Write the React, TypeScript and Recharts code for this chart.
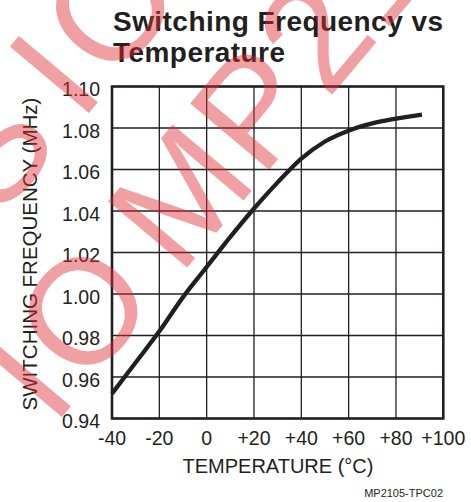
import React from "react";
import {
  LineChart,
  Line,
  XAxis,
  YAxis,
  CartesianGrid,
  ReferenceArea,
} from "recharts";

// temperature (°C) and switching frequency (MHz)
const TEMPS = [-40, -30, -20, -10, 0, 10, 20, 30, 40, 50, 60, 70, 80, 91];
const FREQ = [
  0.952, 0.967, 0.982, 0.9985, 1.013, 1.0275, 1.0412, 1.0538, 1.0652, 1.0735,
  1.0787, 1.0822, 1.0845, 1.0865,
];

const X_TICKS = [-40, -20, 0, 20, 40, 60, 80, 100];
const X_TICK_LABELS = ["-40", "-20", "0", "+20", "+40", "+60", "+80", "+100"];
const Y_TICKS = [0.94, 0.96, 0.98, 1.0, 1.02, 1.04, 1.06, 1.08, 1.1];
const Y_TICK_LABELS = ["0.94", "0.96", "0.98", "1.00", "1.02", "1.04", "1.06", "1.08", "1.10"];

const TITLE = ["Switching Frequency vs", "Temperature"];
const X_TITLE = "TEMPERATURE (°C)";
const Y_TITLE = "SWITCHING FREQUENCY (MHz)";
const FOOTER = "MP2105-TPC02";

// watermark letters: [glyph, offset along the baseline]
const MARK_LOWER: [string, number][] = [
  ["I", -88],
  ["O", 0],
  ["M", 150],
  ["P", 265],
  ["2", 360],
  ["1", 445],
  ["0", 530],
  ["5", 615],
];
const MARK_UPPER: [string, number][] = [
  ["S", -185],
  ["I", -88],
  ["O", 0],
  ["N", 110],
];

const INK = "#231f20";
const FONT = "'Liberation Sans', Arial, Helvetica, sans-serif";

const data = TEMPS.map((t, i) => ({ t, f: FREQ[i] }));

function Mark({ x, y, letters }: { x: number; y: number; letters: [string, number][] }) {
  return (
    <g transform={`translate(${x} ${y}) rotate(-50)`}>
      {letters.map(([ch, u], i) => (
        <text key={i} x={u} y={0} textAnchor="middle">
          {ch}
        </text>
      ))}
    </g>
  );
}

export default function App() {
  return (
    <div
      style={{
        position: "absolute",
        left: 0,
        top: 0,
        width: 471,
        height: 502,
        background: "#fff",
        overflow: "hidden",
      }}
    >
      <LineChart
        width={471}
        height={502}
        data={data}
        margin={{ top: 86.5, right: 27.7, bottom: 43.5, left: 32 }}
      >
        <CartesianGrid stroke={INK} strokeWidth={1.3} />
        <XAxis
          dataKey="t"
          type="number"
          domain={[-40, 100]}
          ticks={X_TICKS}
          tickFormatter={(v: number) => X_TICK_LABELS[X_TICKS.indexOf(v)] ?? String(v)}
          axisLine={false}
          tickLine={false}
          tickSize={0}
          tickMargin={13}
          height={40}
          interval={0}
          tick={{ fill: INK, fontSize: 19.5, fontFamily: FONT }}
        />
        <YAxis
          type="number"
          domain={[0.94, 1.1]}
          ticks={Y_TICKS}
          tickFormatter={(v: number) => {
            const i = Y_TICKS.findIndex((y) => Math.abs(y - v) < 1e-6);
            return i >= 0 ? Y_TICK_LABELS[i] : v.toFixed(2);
          }}
          axisLine={false}
          tickLine={false}
          tickSize={0}
          tickMargin={12}
          width={80}
          interval={0}
          tick={{ fill: INK, fontSize: 19.5, fontFamily: FONT, dy: 3 }}
        />
        <ReferenceArea
          x1={-40}
          x2={100}
          y1={0.94}
          y2={1.1}
          fill="none"
          fillOpacity={0}
          stroke={INK}
          strokeWidth={2.6}
          ifOverflow="visible"
        />
        <Line
          dataKey="f"
          type="monotone"
          stroke={INK}
          strokeWidth={4.3}
          dot={false}
          activeDot={false}
          isAnimationActive={false}
        />
      </LineChart>

      <svg
        width={471}
        height={502}
        style={{ position: "absolute", left: 0, top: 0, pointerEvents: "none" }}
      >
        <g fill={INK} fontFamily={FONT}>
          <text x={113} y={31} fontSize={28} fontWeight="bold" letterSpacing={0.45}>
            {TITLE[0]}
          </text>
          <text x={113} y={62} fontSize={28} fontWeight="bold" letterSpacing={0.45}>
            {TITLE[1]}
          </text>
          <text x={278} y={472.7} fontSize={20} textAnchor="middle">
            {X_TITLE}
          </text>
          <text
            transform="translate(36.5 254) rotate(-90)"
            fontSize={20.5}
            textAnchor="middle"
          >
            {Y_TITLE}
          </text>
          <text x={443} y={497} fontSize={11} textAnchor="end">
            {FOOTER}
          </text>
        </g>
        <g fill="rgba(222,45,50,0.45)" fontFamily={FONT} fontSize={150}>
          <Mark x={123} y={344} letters={MARK_LOWER} />
          <Mark x={150} y={40} letters={MARK_UPPER} />
        </g>
      </svg>
    </div>
  );
}
